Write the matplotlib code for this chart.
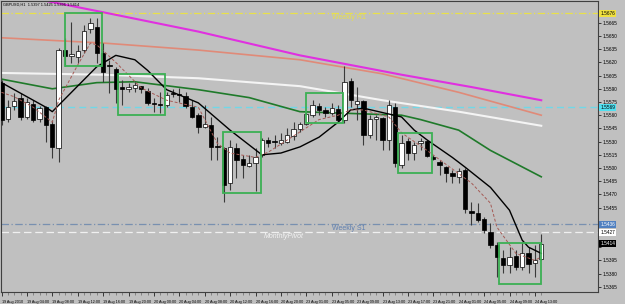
import matplotlib
matplotlib.use('Agg')
import matplotlib.pyplot as plt
from matplotlib.patches import Rectangle
import numpy as np

plt.rcParams['font.family'] = ['Liberation Sans', 'DejaVu Sans']

# ---------------- data (GBPUSD H1) ----------------
opens = [1.5597, 1.5556, 1.5570, 1.5580, 1.5558, 1.5573, 1.5556, 1.5569, 1.5550, 1.5523,
         1.5634, 1.5627, 1.5626, 1.5634, 1.5658, 1.5660, 1.5631, 1.5617, 1.5613, 1.5592,
         1.5590, 1.5591, 1.5593, 1.5588, 1.5574, 1.5573, 1.5572, 1.5585, 1.5584, 1.5582,
         1.5569, 1.5560, 1.5547, 1.5549, 1.5525, 1.5523, 1.5483, 1.5523, 1.5510, 1.5502,
         1.5506, 1.5515, 1.5532, 1.5530, 1.5528, 1.5530, 1.5536, 1.5544, 1.5550, 1.5560,
         1.5570, 1.5566, 1.5562, 1.5567, 1.5555, 1.5599, 1.5573, 1.5576, 1.5538, 1.5556,
         1.5557, 1.5532, 1.5569, 1.5503, 1.5531, 1.5517, 1.5528, 1.5531, 1.5512, 1.5507,
         1.5501, 1.5494, 1.5490, 1.5498, 1.5451, 1.5449, 1.5442, 1.5427, 1.5412, 1.5398,
         1.5390, 1.5400, 1.5388, 1.5403, 1.5392, 1.5397]
highs = [1.5600, 1.5577, 1.5585, 1.5585, 1.5580, 1.5577, 1.5570, 1.5570, 1.5555, 1.5636,
         1.5648, 1.5666, 1.5640, 1.5662, 1.5670, 1.5670, 1.5642, 1.5623, 1.5615, 1.5600,
         1.5597, 1.5598, 1.5593, 1.5591, 1.5580, 1.5586, 1.5586, 1.5590, 1.5591, 1.5586,
         1.5577, 1.5562, 1.5572, 1.5558, 1.5535, 1.5524, 1.5532, 1.5528, 1.5515, 1.5515,
         1.5523, 1.5534, 1.5535, 1.5538, 1.5540, 1.5545, 1.5552, 1.5552, 1.5564, 1.5577,
         1.5574, 1.5569, 1.5574, 1.5572, 1.5616, 1.5602, 1.5592, 1.5577, 1.5560, 1.5560,
         1.5558, 1.5577, 1.5574, 1.5538, 1.5534, 1.5530, 1.5534, 1.5532, 1.5515, 1.5509,
         1.5502, 1.5498, 1.5500, 1.5500, 1.5461, 1.5460, 1.5444, 1.5438, 1.5416, 1.5407,
         1.5410, 1.5407, 1.5416, 1.5410, 1.5412, 1.5425]
lows = [1.5549, 1.5552, 1.5566, 1.5555, 1.5556, 1.5552, 1.5552, 1.5530, 1.5511, 1.5507,
        1.5616, 1.5619, 1.5619, 1.5631, 1.5653, 1.5619, 1.5598, 1.5585, 1.5574, 1.5572,
        1.5586, 1.5586, 1.5585, 1.5572, 1.5564, 1.5562, 1.5569, 1.5581, 1.5575, 1.5568,
        1.5557, 1.5540, 1.5545, 1.5509, 1.5509, 1.5461, 1.5475, 1.5489, 1.5489, 1.5501,
        1.5474, 1.5512, 1.5524, 1.5523, 1.5526, 1.5528, 1.5532, 1.5541, 1.5549, 1.5558,
        1.5560, 1.5558, 1.5560, 1.5552, 1.5551, 1.5569, 1.5555, 1.5526, 1.5534, 1.5532,
        1.5520, 1.5520, 1.5501, 1.5500, 1.5509, 1.5509, 1.5520, 1.5512, 1.5509, 1.5492,
        1.5484, 1.5483, 1.5483, 1.5449, 1.5435, 1.5439, 1.5426, 1.5409, 1.5376, 1.5381,
        1.5381, 1.5384, 1.5384, 1.5381, 1.5376, 1.5396]
closes = [1.5555, 1.5569, 1.5576, 1.5558, 1.5575, 1.5555, 1.5568, 1.5549, 1.5524, 1.5634,
          1.5627, 1.5630, 1.5633, 1.5656, 1.5665, 1.5631, 1.5609, 1.5616, 1.5590, 1.5590,
          1.5592, 1.5594, 1.5590, 1.5574, 1.5573, 1.5572, 1.5583, 1.5584, 1.5583, 1.5570,
          1.5558, 1.5547, 1.5550, 1.5524, 1.5524, 1.5481, 1.5524, 1.5509, 1.5503, 1.5506,
          1.5512, 1.5532, 1.5528, 1.5529, 1.5532, 1.5538, 1.5544, 1.5550, 1.5561, 1.5572,
          1.5566, 1.5562, 1.5568, 1.5555, 1.5598, 1.5577, 1.5576, 1.5538, 1.5556, 1.5558,
          1.5532, 1.5572, 1.5506, 1.5528, 1.5517, 1.5526, 1.5531, 1.5514, 1.5510, 1.5503,
          1.5494, 1.5491, 1.5497, 1.5453, 1.5449, 1.5441, 1.5430, 1.5412, 1.5399, 1.5390,
          1.5399, 1.5388, 1.5403, 1.5391, 1.5395, 1.5414]

# moving-average lines (bar index, price)
ma_magenta_x = [0, 16, 31, 47, 63, 74, 85]
ma_magenta_y = [1.5700, 1.5677, 1.5655, 1.5628, 1.5606, 1.5592, 1.5577]
ma_salmon_x = [0, 16, 31, 47, 60, 72, 85]
ma_salmon_y = [1.5648, 1.5642, 1.5634, 1.5623, 1.5607, 1.5586, 1.5560]
ma_white_x = [0, 16, 31, 47, 60, 72, 85]
ma_white_y = [1.5608, 1.5606, 1.5602, 1.5593, 1.5577, 1.5564, 1.5548]
ma_green_x = [0, 8, 15, 21, 31, 39, 47, 55, 63, 66, 72, 77, 85]
ma_green_y = [1.5601, 1.5590, 1.5597, 1.5598, 1.5589, 1.5580, 1.5564, 1.5562,
              1.5560, 1.5555, 1.5543, 1.5520, 1.5490]
ma_black_x = [0, 7, 8, 15, 18, 21, 23, 26, 31, 36, 41, 44, 47, 50, 53, 55, 57,
              63, 65, 67, 71, 73, 77, 80, 82, 83, 85]
ma_black_y = [1.5597, 1.5569, 1.5564, 1.5615, 1.5628, 1.5623, 1.5611, 1.5589, 1.5574,
              1.5543, 1.5515, 1.5517, 1.5524, 1.5535, 1.5552, 1.5566, 1.5568,
              1.5558, 1.5543, 1.5532, 1.5512, 1.5501, 1.5478, 1.5452, 1.5418, 1.5410, 1.5403]
ma_dash_x = [0, 2, 5, 8, 9, 12, 14, 15, 18, 22, 26, 31, 34, 36, 40, 42, 47, 50, 53,
             55, 57, 61, 63, 67, 74, 77, 78, 81, 84, 85]
ma_dash_y = [1.5586, 1.5581, 1.5569, 1.5552, 1.5577, 1.5617, 1.5642, 1.5640, 1.5620,
             1.5591, 1.5577, 1.5569, 1.5528, 1.5517, 1.5512, 1.5518, 1.5541, 1.5555,
             1.5560, 1.5566, 1.5566, 1.5558, 1.5540, 1.5520, 1.5483, 1.5460, 1.5433,
             1.5403, 1.5395, 1.5399]

# levels
weekly_r1 = 1.5676
daily_level = 1.5569
weekly_s1 = 1.5436
monthly_pivot = 1.5427
last_price = 1.5414

# annotation boxes (bar from, bar to, price low, price high)
box_x0 = [10.0, 18.3, 34.9, 48.0, 62.4, 78.3]
box_x1 = [15.8, 25.7, 40.9, 53.8, 67.8, 85.0]
box_lo = [1.5616, 1.5560, 1.5472, 1.5551, 1.5494, 1.5368]
box_hi = [1.5676, 1.5607, 1.5541, 1.5585, 1.5540, 1.5415]

tick_bars = list(range(0, 85, 4))
tick_labels = ['19 Aug 2010', '19 Aug 04:00', '19 Aug 08:00', '19 Aug 12:00', '19 Aug 16:00',
               '19 Aug 20:00', '20 Aug 00:00', '20 Aug 04:00', '20 Aug 08:00', '20 Aug 12:00',
               '20 Aug 16:00', '20 Aug 20:00', '23 Aug 01:00', '23 Aug 05:00', '23 Aug 09:00',
               '23 Aug 13:00', '23 Aug 17:00', '23 Aug 21:00', '24 Aug 01:00', '24 Aug 05:00',
               '24 Aug 09:00', '24 Aug 13:00']
price_ticks = [1.5365 + 0.0015 * k for k in range(22)]

# ---------------- figure ----------------
BG = '#c0c0c0'
W, H = 625, 304
fig = plt.figure(figsize=(W / 100, H / 100), dpi=100, facecolor=BG)
ax = fig.add_axes([1 / W, 12 / H, 597 / W, 291 / H], facecolor=BG)

px_per_bar = 6.35
ax.set_xlim((1 - 1.5) / px_per_bar, (598 - 1.5) / px_per_bar)
ax.set_ylim(1.55 - 124 / 8800, 1.55 + 167 / 8800)

# horizontal levels
ax.axhline(weekly_r1, color='#e8e04a', lw=0.9, dashes=(6, 2, 1, 2), zorder=1)
ax.axhline(daily_level, color='#70d8e8', lw=1.0, dashes=(5, 3), zorder=1)
ax.axhline(weekly_s1, color='#7890b0', lw=0.9, dashes=(6, 2, 1, 2), zorder=1)
ax.axhline(monthly_pivot, color='#f0f0f0', lw=0.9, dashes=(6, 3), zorder=1)

# moving averages
ax.plot(ma_magenta_x, ma_magenta_y, color='#e030e0', lw=1.5, zorder=2)
ax.plot(ma_salmon_x, ma_salmon_y, color='#e08a78', lw=1.2, zorder=2)
ax.plot(ma_white_x, ma_white_y, color='#f4f4f4', lw=1.5, zorder=2)
ax.plot(ma_green_x, ma_green_y, color='#1f7a2a', lw=1.2, zorder=2)

# candles
n = len(opens)
xs = np.arange(n)
ax.vlines(xs, lows, highs, color='#3a3a3a', lw=0.8, zorder=3)
bw = 0.68
min_h = 0.00012
for i in range(n):
    o, c = opens[i], closes[i]
    lo, hi = min(o, c), max(o, c)
    h = max(hi - lo, min_h)
    fc = 'white' if c > o else 'black'
    ax.add_patch(Rectangle((i - bw / 2, lo), bw, h, facecolor=fc,
                           edgecolor='black', lw=0.5, zorder=4))

ax.plot(ma_black_x, ma_black_y, color='black', lw=1.0, zorder=5)
ax.plot(ma_dash_x, ma_dash_y, color='#a55a55', lw=0.7, dashes=(3, 2), zorder=5)

# boxes
for x0, x1, lo, hi in zip(box_x0, box_x1, box_lo, box_hi):
    ax.add_patch(Rectangle((x0, lo), x1 - x0, hi - lo, fill=False,
                           edgecolor='#3cb054', lw=1.3, zorder=6))

# level labels
ax.text(54.7, weekly_r1 - 0.00005, 'Weekly R1', color='#e8e04a', fontsize=5,
        ha='center', va='top')
ax.text(54.7, weekly_s1 - 0.00005, 'Weekly S1', color='#5f7fb0', fontsize=5,
        ha='center', va='top')
ax.text(44.5, monthly_pivot - 0.00005, 'MonthlyPivot', color='#f4f4f4', fontsize=5,
        ha='center', va='top', style='italic')

# top-left info
ax.text(0.004, 0.994, 'GBPUSD,H1  1.5397 1.5425 1.5396 1.5414', transform=ax.transAxes,
        fontsize=2.8, ha='left', va='top', color='black')

# right-side price tags
tags = [(weekly_r1, '#f0e040', 'black'), (daily_level, '#50e0f0', 'black'),
        (weekly_s1, '#5080c0', 'white'), (monthly_pivot, 'white', 'black'),
        (last_price, 'black', 'white')]

# axes styling
ax.yaxis.tick_right()
ax.set_yticks(price_ticks)
ylabels = []
for p in price_ticks:
    near = any(abs(p - t[0]) < 0.00055 for t in tags)
    ylabels.append('' if near else '%.4f' % p)
ax.set_yticklabels(ylabels, fontsize=3.4)
ax.tick_params(axis='y', length=2, width=0.5, pad=1, colors='black')
ax.set_xticks(tick_bars)
ax.set_xticklabels(tick_labels, fontsize=2.7, ha='left')
ax.set_xticks(xs, minor=True)
ax.tick_params(axis='x', which='major', length=3, width=0.5, pad=2.5)
ax.tick_params(axis='x', which='minor', length=2, width=0.4, color='#555555')
for s in ax.spines.values():
    s.set_color('#404040')
    s.set_linewidth(0.8)

for price, fc, tc in tags:
    ax.annotate('%.4f' % price, xy=(1.0, price), xycoords=('axes fraction', 'data'),
                xytext=(1.5, 0), textcoords='offset points', fontsize=3.4, color=tc,
                va='center', ha='left',
                bbox=dict(boxstyle='square,pad=0.2', fc=fc, ec='none'))

fig.savefig('out.png', dpi=100, facecolor=BG)
